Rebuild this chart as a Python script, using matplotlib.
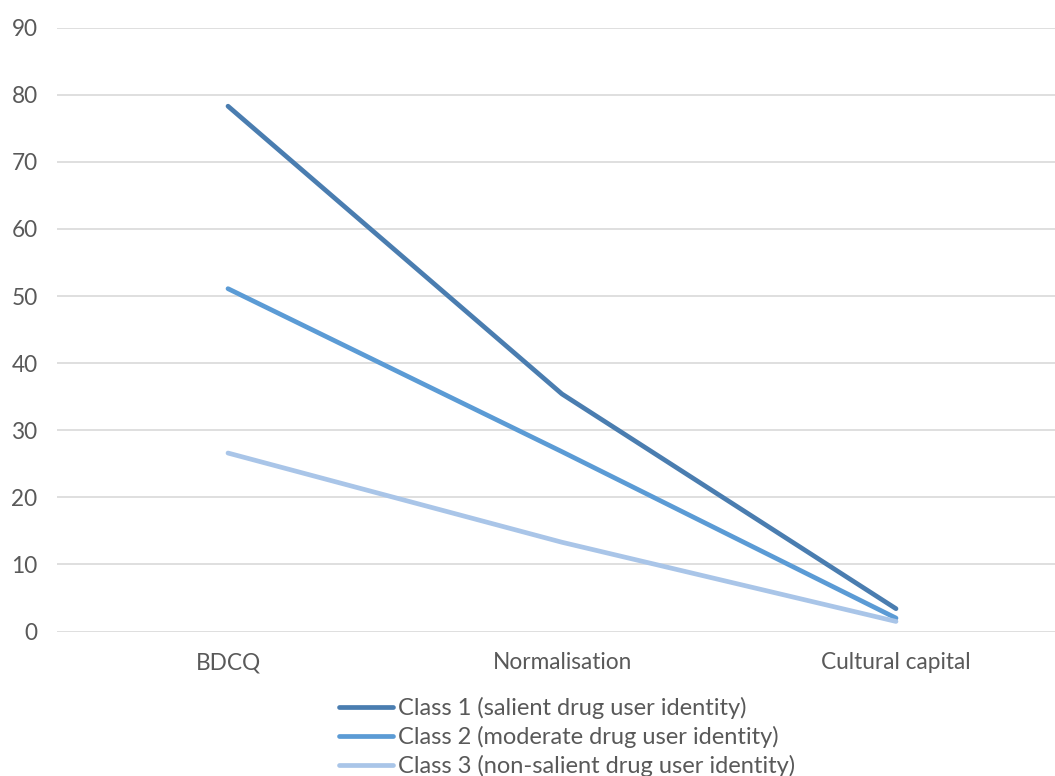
import matplotlib.pyplot as plt

categories = ['BDCQ', 'Normalisation', 'Cultural capital']
class1 = [78.3, 35.4, 3.4]
class2 = [51.1, 26.8, 2.0]
class3 = [26.6, 13.3, 1.5]
series_labels = ['Class 1 (salient drug user identity)',
                 'Class 2 (moderate drug user identity)',
                 'Class 3 (non-salient drug user identity)']
y_ticks = list(range(0, 100, 10))

colors = ['#4a7db0', '#5b9bd5', '#a9c5e8']
text_color = '#595959'
plt.rcParams['font.family'] = ['Lato', 'DejaVu Sans']
fs = 16.3

fig = plt.figure(figsize=(10.55, 7.76), dpi=100)
ax = fig.add_axes([57 / 1055, 1 - 631.5 / 776, 998 / 1055, (631.5 - 27.7) / 776])

x = range(len(categories))
for vals, col, lab in zip([class1, class2, class3], colors, series_labels):
    ax.plot(x, vals, color=col, linewidth=3.4, solid_capstyle='round',
            solid_joinstyle='round', label=lab, zorder=3)

ax.set_xlim((57 - 228) / 334, (1055 - 228) / 334)
ax.set_ylim(0, 90)
ax.set_yticks(y_ticks)
ax.set_xticks(list(x))
ax.set_xticklabels(categories)
ax.yaxis.grid(True, color='#d9d9d9', linewidth=1.2)
ax.set_axisbelow(True)
for s in ax.spines.values():
    s.set_visible(False)
ax.tick_params(axis='both', length=0, labelsize=fs, labelcolor=text_color)
ax.tick_params(axis='y', pad=14)
ax.tick_params(axis='x', pad=15)

# legend under the category labels, one class per row
leg = fig.legend(loc='center', bbox_to_anchor=(567 / 1055, 1 - 737 / 776),
                 frameon=False, fontsize=17, handlelength=2.3,
                 handletextpad=0.2, labelspacing=0.3, borderpad=0)
for t in leg.get_texts():
    t.set_color(text_color)

fig.savefig('out.png', dpi=100)
